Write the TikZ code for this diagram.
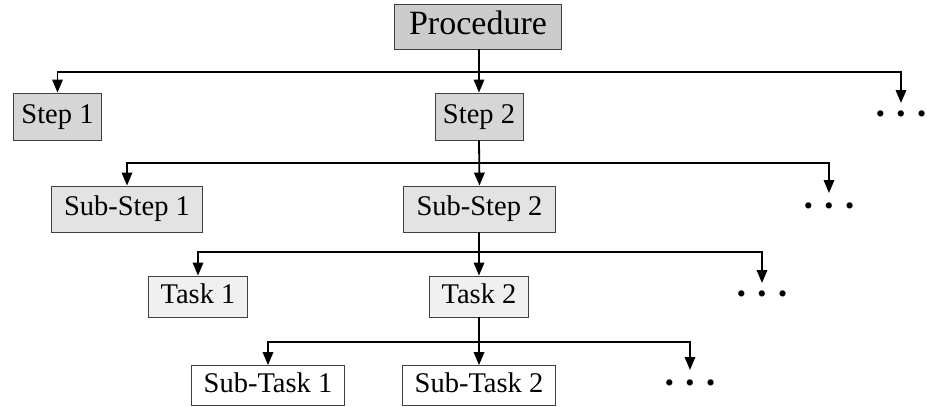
\documentclass[tikz,border=0pt]{standalone}
\usepackage{fontspec}
\setmainfont{Liberation Serif}
\usetikzlibrary{arrows.meta}
\newcommand{\mydots}{\textbullet\hspace{11.5pt}\textbullet\hspace{11.5pt}\textbullet}
\begin{document}
\begin{tikzpicture}[x=1pt,y=-1pt,
  box/.style={draw=black!75,line width=0.9pt,font=\fontsize{28.5}{30}\selectfont,
    text height=19pt,text depth=6pt,inner ysep=0pt,anchor=center},
  lv0/.style={box,fill=black!20,font=\fontsize{34}{36}\selectfont,text height=23pt,text depth=7pt,minimum height=45pt,inner xsep=15pt},
  lv1/.style={box,fill=black!16,minimum height=47pt,inner xsep=8pt},
  lv2/.style={box,fill=black!11,minimum height=46pt,inner xsep=13pt},
  lv3/.style={box,fill=black!6,minimum height=41pt,inner xsep=12pt},
  lv4/.style={box,fill=white,minimum height=40pt,inner xsep=12pt},
  dotsn/.style={inner sep=0pt,font=\fontsize{26}{26}\selectfont,text height=7pt,text depth=0pt},
  arr/.style={line width=1.8pt,-{Triangle[length=13pt,width=10.5pt]}}]
\useasboundingbox (0,0) rectangle (927,407);

\node[lv0] (proc) at (478,26.5) {Procedure};
\node[lv1] (s1) at (57.5,116.5) {Step 1};
\node[lv1] (s2) at (479,116.5) {Step 2};
\node[dotsn] (d1) at (901,119) {\mydots};
\coordinate (e1) at (901,103);

\node[lv2] (ss1) at (127,209) {Sub-Step 1};
\node[lv2] (ss2) at (479.5,209) {Sub-Step 2};
\node[dotsn] (d2) at (829,211) {\mydots};
\coordinate (e2) at (829,193);

\node[lv3] (t1) at (198,296.5) {Task 1};
\node[lv3] (t2) at (479,296.5) {Task 2};
\node[dotsn] (d3) at (762,299) {\mydots};
\coordinate (e3) at (762,283);

\node[lv4] (st1) at (268,385.5) {Sub-Task 1};
\node[lv4] (st2) at (479,385.5) {Sub-Task 2};
\node[dotsn] (d4) at (690,388) {\mydots};
\coordinate (e4) at (690,370);

\coordinate (b1) at (479,72);
\coordinate (b2) at (479,163);
\coordinate (b3) at (479,252);
\coordinate (b4) at (479,342);

\draw[arr] (proc.south -| s2) -- (s2.north);
\draw[arr] (b1) -| (s1.north);
\draw[arr] (b1) -| (e1);

\draw[arr] (s2.south) -- (ss2.north);
\draw[arr] (b2) -| (ss1.north);
\draw[arr] (b2) -| (e2);

\draw[arr] (ss2.south -| t2) -- (t2.north);
\draw[arr] (b3) -| (t1.north);
\draw[arr] (b3) -| (e3);

\draw[arr] (t2.south) -- (st2.north);
\draw[arr] (b4) -| (st1.north);
\draw[arr] (b4) -| (e4);
\end{tikzpicture}
\end{document}
